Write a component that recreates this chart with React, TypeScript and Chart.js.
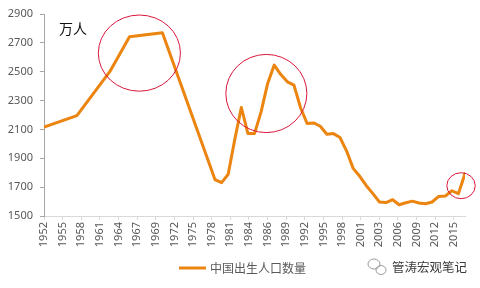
import { useEffect, useRef } from "react";
import { Chart, registerables } from "chart.js";

Chart.register(...registerables);

// ---- data ----
const years = [
  1952, 1953, 1954, 1955, 1956, 1957, 1958, 1959, 1960, 1961, 1962, 1963, 1964, 1965, 1966, 1967,
  1968, 1969, 1970, 1971, 1972, 1973, 1974, 1975, 1976, 1977, 1978, 1979, 1980, 1981, 1982, 1983,
  1984, 1985, 1986, 1987, 1988, 1989, 1990, 1991, 1992, 1993, 1994, 1995, 1996, 1997, 1998, 1999,
  2000, 2001, 2002, 2003, 2004, 2005, 2006, 2007, 2008, 2009, 2010, 2011, 2012, 2013, 2014, 2015,
  2016,
];
const births: (number | null)[] = [
  2117, null, null, null, null, 2196, null, null, null, null, 2500, null, null, 2743, null, null,
  null, null, 2770, null, null, null, null, null, null, null, 1752, 1731, 1789, 2030, 2252, 2071,
  2071, 2222, 2419, 2546, 2480, 2430, 2407, 2250, 2141, 2145, 2122, 2067, 2071, 2044, 1950, 1830,
  1775, 1710, 1655, 1597, 1593, 1613, 1578, 1592, 1603, 1590, 1585, 1597, 1636, 1638, 1675, 1655,
  1794,
];
const tickLabels = [
  "1952", "1955", "1958", "1961", "1964", "1967", "1969", "1972", "1975", "1978", "1981", "1984",
  "1986", "1989", "1992", "1995", "1998", "2001", "2003", "2006", "2009", "2012", "2015",
];
const seriesName = "中国出生人口数量";
const unitLabel = "万人";
const sourceLabel = "管涛宏观笔记";

// highlight ellipses (centre year, centre value, radius in years, radius in value)
const highlights = [
  { cx: 1966.5, cy: 2629, rx: 6.24, ry: 264 },
  { cx: 1985.8, cy: 2349, rx: 6.16, ry: 271 },
  { cx: 2015.4, cy: 1710, rx: 2.16, ry: 90 },
];

const ORANGE = "#ec8410";
const GREY = "#595959";
const NUM_FONT = '"Noto Sans", "Noto Sans CJK SC", sans-serif';
const CJK_FONT = '"Noto Sans CJK SC", sans-serif';

const overlayPlugin = {
  id: "overlay",
  afterDatasetsDraw(chart: any) {
    const { ctx, scales } = chart;
    const xs = scales.x;
    const ys = scales.y;
    ctx.save();
    // ellipses
    ctx.strokeStyle = "#d9163c";
    ctx.lineWidth = 1;
    highlights.forEach((h) => {
      const cx = xs.getPixelForValue(h.cx);
      const cy = ys.getPixelForValue(h.cy);
      const rx = Math.abs(xs.getPixelForValue(h.cx + h.rx) - cx);
      const ry = Math.abs(ys.getPixelForValue(h.cy + h.ry) - cy);
      ctx.beginPath();
      ctx.ellipse(cx, cy, rx, ry, 0, 0, Math.PI * 2);
      ctx.stroke();
    });
    // unit label
    ctx.fillStyle = "#111";
    ctx.font = `14px ${CJK_FONT}`;
    ctx.textBaseline = "middle";
    ctx.textAlign = "left";
    ctx.fillText(unitLabel, chart.chartArea.left + 15, chart.chartArea.top + 15);
    // legend
    ctx.strokeStyle = ORANGE;
    ctx.lineWidth = 3;
    ctx.beginPath();
    ctx.moveTo(179, 268);
    ctx.lineTo(206, 268);
    ctx.stroke();
    ctx.fillStyle = GREY;
    ctx.font = `12px ${CJK_FONT}`;
    ctx.fillText(seriesName, 210, 268);
    // source watermark
    ctx.strokeStyle = "#9a9a9a";
    ctx.lineWidth = 1;
    ctx.beginPath();
    ctx.ellipse(374, 264, 6, 5, 0, 0, Math.PI * 2);
    ctx.stroke();
    ctx.beginPath();
    ctx.ellipse(381, 270, 5, 4.5, 0, 0, Math.PI * 2);
    ctx.stroke();
    ctx.fillStyle = "#3a3a3a";
    ctx.font = `12.5px ${CJK_FONT}`;
    ctx.fillText(sourceLabel, 392, 267);
    ctx.restore();
  },
};

export default function App() {
  const ref = useRef<HTMLCanvasElement>(null);
  useEffect(() => {
    document.body.style.margin = "0";
    const chart = new Chart(ref.current as HTMLCanvasElement, {
      type: "line",
      data: {
        datasets: [
          {
            label: seriesName,
            data: years.map((y, i) => ({ x: y, y: births[i] })) as any,
            borderColor: ORANGE,
            backgroundColor: ORANGE,
            borderWidth: 3,
            pointRadius: 0,
            tension: 0,
            spanGaps: true,
            borderJoinStyle: "round",
            borderCapStyle: "round",
          },
        ],
      },
      options: {
        animation: false,
        responsive: false,
        devicePixelRatio: 1,
        layout: { padding: { top: 14, right: 15, left: 0, bottom: 0 } },
        plugins: {
          legend: { display: false },
          tooltip: { enabled: false },
        },
        scales: {
          x: {
            type: "linear",
            min: 1952,
            max: 2016,
            afterBuildTicks: (s: any) => {
              s.ticks = tickLabels.map((_, i) => ({ value: 1952 + i * 2.832 }));
            },
            afterFit: (s: any) => {
              s.height = 72;
            },
            ticks: {
              autoSkip: false,
              minRotation: 90,
              maxRotation: 90,
              padding: 2,
              color: GREY,
              font: { family: NUM_FONT, size: 11 },
              callback: (_v: any, i: number) => tickLabels[i],
            },
            grid: { drawOnChartArea: false, tickLength: 4, color: "#d9d9d9" },
            border: { color: "#d9d9d9", width: 1 },
          },
          y: {
            min: 1500,
            max: 2900,
            afterFit: (s: any) => {
              s.width = 44;
            },
            ticks: {
              stepSize: 200,
              padding: 7,
              color: GREY,
              font: { family: NUM_FONT, size: 11 },
              callback: (v: any) => String(v),
            },
            grid: { drawOnChartArea: false, tickLength: 4, color: "#a6a6a6" },
            border: { color: "#a6a6a6", width: 1 },
          },
        },
      },
      plugins: [overlayPlugin],
    });
    return () => chart.destroy();
  }, []);
  return (
    <div style={{ width: 480, height: 288, position: "relative", background: "#fff" }}>
      <canvas ref={ref} width={480} height={288} />
    </div>
  );
}
